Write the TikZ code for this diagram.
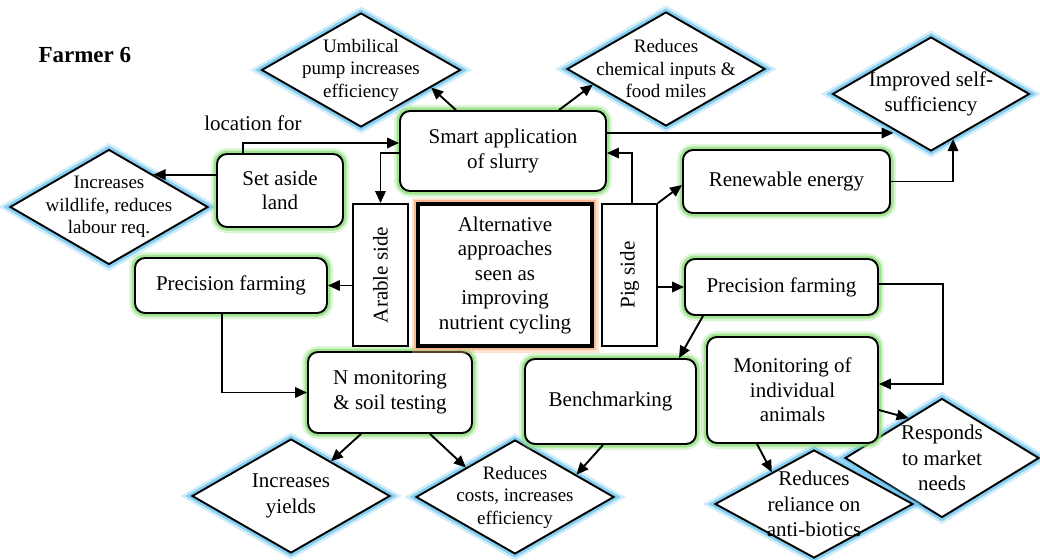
\documentclass[tikz,border=0pt]{standalone}
\usepackage{fontspec}
\setmainfont{Liberation Serif}
\usetikzlibrary{shapes.geometric,arrows.meta}
\definecolor{glowgreen}{HTML}{8EDF78}
\definecolor{glowblue}{HTML}{6CC4F0}
\definecolor{gloworange}{HTML}{F8B080}
\tikzset{
  bigfont/.style={font=\fontsize{21}{24.5}\selectfont},
  smalltext/.style={align=center, font=\fontsize{19}{22.5}\selectfont},
  bigtext/.style={align=center, font=\fontsize{21}{25.5}\selectfont},
  box/.style={draw, line width=1.9pt, rounded corners=10pt, fill=white, align=center, bigfont, inner sep=0pt,
    preaction={draw=glowgreen, line width=12pt, opacity=0.3},
    preaction={draw=glowgreen, line width=7pt, opacity=0.75}},
  dia/.style={shape=diamond, draw, line width=1.9pt, fill=white, inner sep=0pt,
    preaction={draw=glowblue, line width=12pt, opacity=0.3},
    preaction={draw=glowblue, line width=7pt, opacity=0.75}},
  side/.style={draw, line width=1.9pt, fill=white, inner sep=0pt, bigfont},
  arr/.style={line width=1.9pt, -{Triangle[length=12pt,width=10.5pt]}}
}
\begin{document}
\begin{tikzpicture}[x=1pt,y=-1pt]
\fill[white] (0,0) rectangle (1040,559);
\useasboundingbox (0,0) rectangle (1040,559);

\node[font=\fontsize{23}{27}\selectfont\bfseries, anchor=west] (farmer) at (35,55) {Farmer 6};

% diamonds
\node[dia, minimum width=199pt, minimum height=114pt, label={[smalltext]center:{Umbilical\\pump increases\\efficiency}}] (umb) at (361,70) {};
\node[dia, minimum width=198pt, minimum height=114pt, label={[smalltext]center:{Reduces\\chemical inputs \&\\food miles}}] (chem) at (666,69) {};
\node[dia, minimum width=197pt, minimum height=114pt, label={[bigtext]center:{Improved self-\\sufficiency}}] (impr) at (931,94) {};
\node[dia, minimum width=198pt, minimum height=115pt, label={[smalltext]center:{Increases\\wildlife, reduces\\labour req.}}] (wild) at (109,207) {};
\node[dia, minimum width=198pt, minimum height=114pt, label={[bigtext]center:{Increases\\yields}}] (yields) at (291,496) {};
\node[dia, minimum width=198pt, minimum height=114pt, label={[smalltext]center:{Reduces\\costs, increases\\efficiency}}] (costs) at (515,497) {};
\node[dia, minimum width=194pt, minimum height=119pt, label={[bigtext]center:{Responds\\to market\\needs}}] (responds) at (942,458) {};
\node[dia, minimum width=198pt, minimum height=108pt, label={[bigtext]center:{Reduces\\reliance on\\anti-biotics}}] (reliance) at (814,504) {};

% boxes
\node[box, minimum width=206pt, minimum height=80pt] (smart) at (503,151) {Smart application\\of slurry};
\node[box, minimum width=126pt, minimum height=73pt] (setaside) at (280,190.5) {Set aside\\land};
\node[box, minimum width=207pt, minimum height=63pt] (renew) at (786.5,181.5) {Renewable energy};
\node[box, minimum width=192pt, minimum height=55pt] (precL) at (231,285.5) {Precision farming};
\node[box, minimum width=193pt, minimum height=56pt] (precR) at (781.5,287) {Precision farming};
\node[box, minimum width=164pt, minimum height=81pt] (nmon) at (390,392.5) {N monitoring\\\& soil testing};
\node[box, minimum width=171pt, minimum height=85pt] (bench) at (610.5,401.5) {Benchmarking};
\node[box, minimum width=171pt, minimum height=106pt] (monit) at (792.5,390) {Monitoring of\\individual\\animals};

% centre
\node[draw, line width=3.5pt, fill=white, minimum width=174pt, minimum height=142pt, bigfont, align=center, inner sep=0pt,
  preaction={draw=gloworange, line width=13pt, opacity=0.35},
  preaction={draw=gloworange, line width=8pt, opacity=0.8}] (central) at (505,275) {Alternative\\approaches\\seen as\\improving\\nutrient cycling};
\node[side, minimum width=55pt, minimum height=142pt] (arable) at (380.5,275) {\rotatebox{90}{Arable side}};
\node[side, minimum width=55pt, minimum height=142pt] (pig) at (629.5,275) {\rotatebox{90}{Pig side}};

\node[bigfont] (loclabel) at (253,123) {location for};

% connectors
\draw[arr] ([xshift=-37]setaside.north) |- ([yshift=8]smart.west);
\draw[arr] ([yshift=-2]smart.west) -| (arable.north);
\draw[arr] (setaside.west |- wild.36) -- (wild.36);
\draw[arr] (arable.west |- precL.east) -- (precL.east);
\draw[arr] ([xshift=-9]precL.south) |- (nmon.west);
\draw[arr] ([xshift=-29]nmon.south) -- (yields.41);
\draw[arr] ([xshift=40]nmon.south) -- (costs.149);
\draw[arr] ([xshift=-7.5]bench.south) -- (costs.20);
\draw[arr] ([xshift=-78.5]precR.south) -- ([xshift=68.5]bench.north);
\draw[arr] ([yshift=3]precR.east) -- ++(64,0) |- ([yshift=6]monit.east);
\draw[arr] ([yshift=-20]monit.east) -- (responds.130);
\draw[arr] ([xshift=-35.5]monit.south) -- (reliance.143);
\draw[arr] ([xshift=2.5]pig.north) |- ([yshift=-2]smart.east);
\draw[arr] (pig.north east) -- ([yshift=-3.5]renew.west);
\draw[arr] (pig.east |- precR.west) -- (precR.west);
\draw[arr] ([xshift=-47]smart.north) -- (umb.346);
\draw[arr] ([xshift=56]smart.north) -- (chem.192);
\draw[arr] ([yshift=18]smart.east) -- ([yshift=18]smart.east -| impr.224);
\draw[arr] (renew.east) -| (impr.296);
\end{tikzpicture}
\end{document}
